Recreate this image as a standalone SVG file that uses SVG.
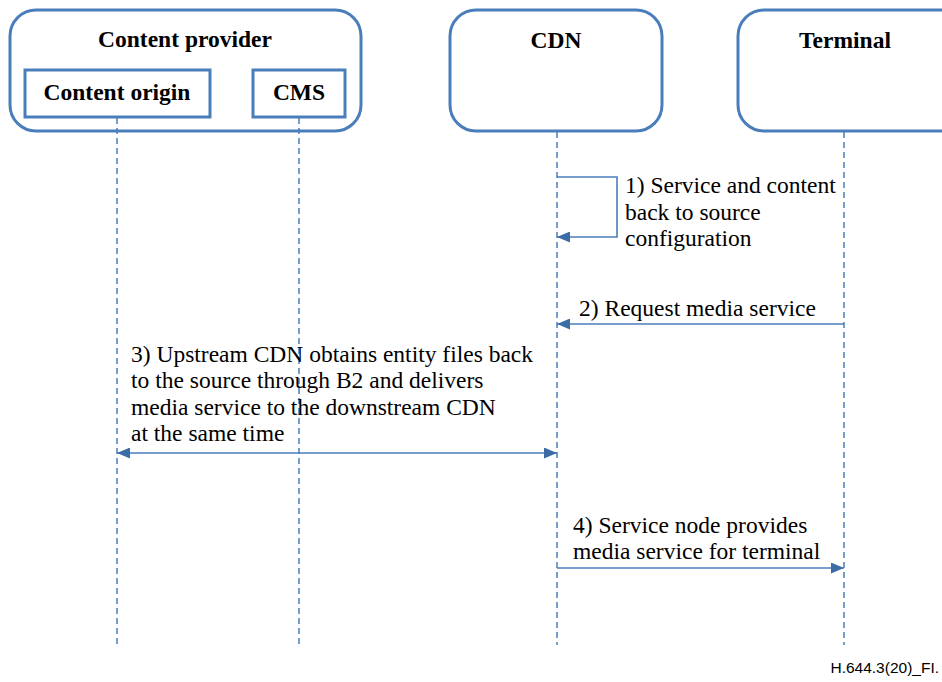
<svg xmlns="http://www.w3.org/2000/svg" width="942" height="682" viewBox="0 0 942 682">
  <style>
    .box { fill: #ffffff; stroke: #4a7ebb; stroke-width: 3; }
    .title { font-family: "Liberation Serif", "Times New Roman", serif; font-weight: bold; font-size: 23.5px; fill: #000; text-anchor: middle; }
    .life { stroke: #4a7ebb; stroke-width: 1.5; stroke-dasharray: 6 4; fill: none; }
    .msg { stroke: #4a7ebb; stroke-width: 1.6; fill: none; }
    .lbl { font-family: "Liberation Serif", "Times New Roman", serif; font-size: 23.5px; fill: #000; }
    .ref { font-family: "Liberation Sans", Arial, sans-serif; font-size: 15.5px; fill: #000; text-anchor: end; }
  </style>
  <defs>
    <marker id="arrow" viewBox="0 0 13 11" refX="13" refY="5.5" markerWidth="13" markerHeight="11" markerUnits="userSpaceOnUse" orient="auto-start-reverse">
      <path d="M0,0 L13,5.5 L0,11 z" fill="#3c6ca6"/>
    </marker>
  </defs>

  <rect width="942" height="682" fill="#ffffff"/>

  <!-- Participants -->
  <g id="content-provider">
    <rect class="box" x="10" y="10" width="351" height="121" rx="26" ry="26"/>
    <text class="title" x="185" y="47">Content provider</text>
  </g>
  <g id="content-origin">
    <rect class="box" x="25" y="70" width="185" height="47"/>
    <text class="title" x="117" y="100">Content origin</text>
  </g>
  <g id="cms">
    <rect class="box" x="253" y="70" width="92" height="47"/>
    <text class="title" x="299" y="100">CMS</text>
  </g>
  <g id="cdn">
    <rect class="box" x="450" y="10" width="212" height="121" rx="26" ry="26"/>
    <text class="title" x="556" y="48">CDN</text>
  </g>
  <g id="terminal">
    <rect class="box" x="738" y="10" width="230" height="121" rx="26" ry="26"/>
    <text class="title" x="845" y="48">Terminal</text>
  </g>

  <!-- Lifelines and messages -->
  <g id="connectors">
    <line class="life" x1="117" y1="118" x2="117" y2="645"/>
    <line class="life" x1="299" y1="118" x2="299" y2="645"/>
    <line class="life" x1="557" y1="132" x2="557" y2="645"/>
    <line class="life" x1="844" y1="132" x2="844" y2="645"/>

    <!-- 1) self message on CDN -->
    <polyline class="msg" points="557,177 617,177 617,237 557,237" marker-end="url(#arrow)"/>
    <!-- 2) Terminal to CDN -->
    <line class="msg" x1="844" y1="324" x2="557" y2="324" marker-end="url(#arrow)"/>
    <!-- 3) Content origin and CDN, both ways -->
    <line class="msg" x1="117" y1="453" x2="557" y2="453" marker-start="url(#arrow)" marker-end="url(#arrow)"/>
    <!-- 4) CDN to Terminal -->
    <line class="msg" x1="557" y1="568" x2="844" y2="568" marker-end="url(#arrow)"/>
  </g>

  <!-- Message labels -->
  <g id="labels">
    <text class="lbl" x="625" y="193">1) Service and content</text>
    <text class="lbl" x="625" y="220">back to source</text>
    <text class="lbl" x="625" y="246">configuration</text>

    <text class="lbl" x="579" y="316">2) Request media service</text>

    <text class="lbl" x="131" y="362">3) Upstream CDN obtains entity files back</text>
    <text class="lbl" x="131" y="388">to the source through B2 and delivers</text>
    <text class="lbl" x="131" y="415">media service to the downstream CDN</text>
    <text class="lbl" x="131" y="441">at the same time</text>

    <text class="lbl" x="573" y="533">4) Service node provides</text>
    <text class="lbl" x="573" y="559">media service for terminal</text>
  </g>

  <text class="ref" x="939" y="673">H.644.3(20)_FI.</text>
</svg>
